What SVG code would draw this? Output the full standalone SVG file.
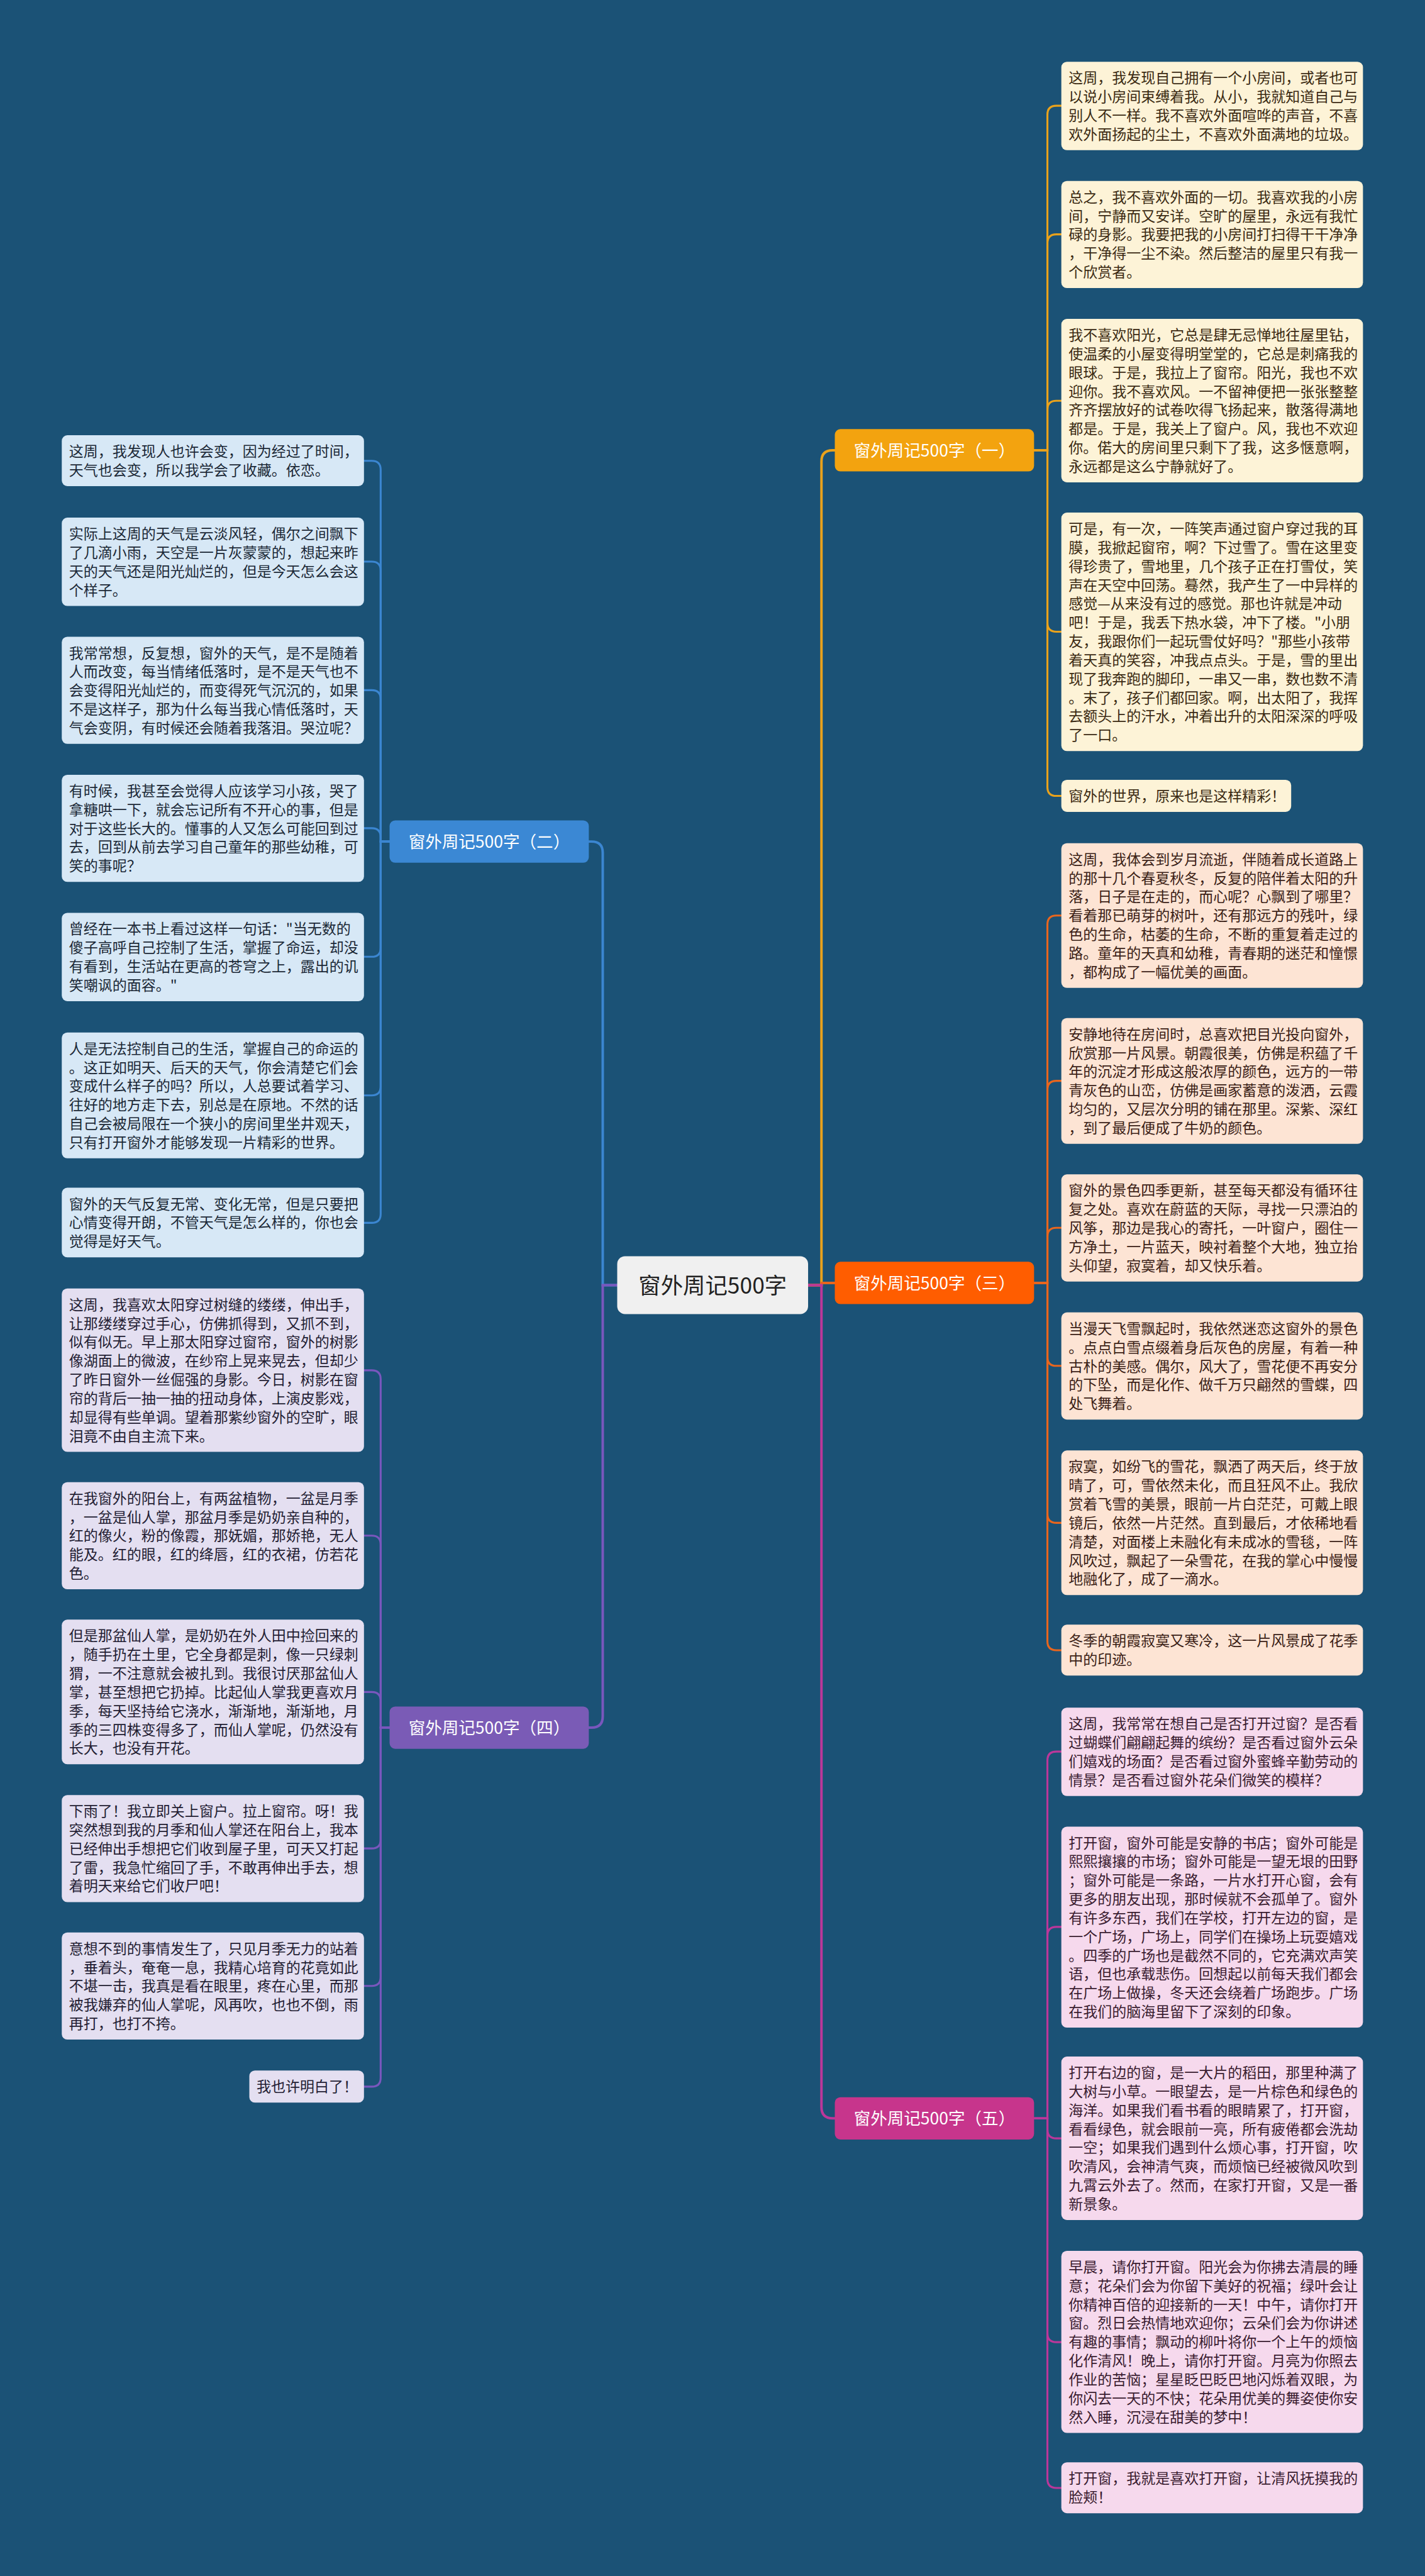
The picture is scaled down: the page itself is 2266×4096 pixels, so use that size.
<svg xmlns="http://www.w3.org/2000/svg" width="2266" height="4096" viewBox="0 0 2266 4096">
<style>
text{font-family:"Noto Sans CJK SC","Noto Sans",sans-serif;}
.t{font-size:26px;}
.c1 rect{fill:#fdf3d7}.c1 text{fill:#3b2a12}
.c3 rect{fill:#fde4d4}.c3 text{fill:#3b2116}
.c5 rect{fill:#f6d9ed}.c5 text{fill:#3a1c30}
.c2 rect{fill:#d7e8f6}.c2 text{fill:#1b2836}
.c4 rect{fill:#e4dff1}.c4 text{fill:#231d33}
.lab text{font-size:30px;fill:#ffffff;text-anchor:middle}
.con path{fill:none;stroke-width:3.5;stroke-linecap:round}
.k1{stroke:#e9a21c}.k3{stroke:#e8661e}.k5{stroke:#bb379a}.k2{stroke:#3b86d1}.k4{stroke:#7957bd}
.main{stroke-width:4.5 !important}
</style>
<rect width="2266" height="4096" fill="#1b5276"/>
<g transform="scale(0.885)">
<g id="connectors" class="con">
<path class="k1 main" d="M1452,2309 H1476 V829 Q1476,809 1496,809 H1500"/>
<path class="k3 main" d="M1452,2309 H1476 V2305 H1500"/>
<path class="k5 main" d="M1452,2309 H1476 V3786 Q1476,3806 1496,3806 H1500"/>
<path class="k2 main" d="M1109,2309 H1083 V1532 Q1083,1512 1063,1512 H1058"/>
<path class="k4 main" d="M1109,2309 H1083 V3084 Q1083,3104 1063,3104 H1058"/>
<path class="k1" d="M1858,809 H1882 V206 Q1882,190 1898,190 H1907"/>
<path class="k1" d="M1858,809 H1882 V437 Q1882,421 1898,421 H1907"/>
<path class="k1" d="M1858,809 H1882 V736 Q1882,720 1898,720 H1907"/>
<path class="k1" d="M1858,809 H1882 V1119 Q1882,1135 1898,1135 H1907"/>
<path class="k1" d="M1858,809 H1882 V1414 Q1882,1430 1898,1430 H1907"/>
<path class="k3" d="M1858,2305 H1882 V1661 Q1882,1645 1898,1645 H1907"/>
<path class="k3" d="M1858,2305 H1882 V1958 Q1882,1942 1898,1942 H1907"/>
<path class="k3" d="M1858,2305 H1882 V2222 Q1882,2206 1898,2206 H1907"/>
<path class="k3" d="M1858,2305 H1882 V2438 Q1882,2454 1898,2454 H1907"/>
<path class="k3" d="M1858,2305 H1882 V2720 Q1882,2736 1898,2736 H1907"/>
<path class="k3" d="M1858,2305 H1882 V2949 Q1882,2965 1898,2965 H1907"/>
<path class="k5" d="M1858,3806 H1882 V3163 Q1882,3147 1898,3147 H1907"/>
<path class="k5" d="M1858,3806 H1882 V3478 Q1882,3462 1898,3462 H1907"/>
<path class="k5" d="M1858,3806 H1882 V3826 Q1882,3842 1898,3842 H1907"/>
<path class="k5" d="M1858,3806 H1882 V4192 Q1882,4208 1898,4208 H1907"/>
<path class="k5" d="M1858,3806 H1882 V4454 Q1882,4470 1898,4470 H1907"/>
<path class="k2" d="M700,1512 H684 V844 Q684,828 668,828 H654"/>
<path class="k2" d="M700,1512 H684 V1025 Q684,1009 668,1009 H654"/>
<path class="k2" d="M700,1512 H684 V1256 Q684,1240 668,1240 H654"/>
<path class="k2" d="M700,1512 H684 V1504 Q684,1488 668,1488 H654"/>
<path class="k2" d="M700,1512 H684 V1703 Q684,1719 668,1719 H654"/>
<path class="k2" d="M700,1512 H684 V1952 Q684,1968 668,1968 H654"/>
<path class="k2" d="M700,1512 H684 V2181 Q684,2197 668,2197 H654"/>
<path class="k4" d="M700,3104 H684 V2478 Q684,2462 668,2462 H654"/>
<path class="k4" d="M700,3104 H684 V2775 Q684,2759 668,2759 H654"/>
<path class="k4" d="M700,3104 H684 V3056 Q684,3040 668,3040 H654"/>
<path class="k4" d="M700,3104 H684 V3305 Q684,3321 668,3321 H654"/>
<path class="k4" d="M700,3104 H684 V3552 Q684,3568 668,3568 H654"/>
<path class="k4" d="M700,3104 H684 V3733 Q684,3749 668,3749 H654"/>
</g>

<g id="center"><rect x="1109" y="2257" width="343" height="104" rx="14" fill="#f0f0f0"/><text x="1280.5" y="2324" font-size="40" fill="#222" text-anchor="middle">窗外周记500字</text></g>

<g id="b1" class="lab"><rect x="1500" y="771" width="358" height="76" rx="10" fill="#f3a30f"/><text x="1679" y="820">窗外周记500字（一）</text></g>
<g id="b3" class="lab"><rect x="1500" y="2267" width="358" height="76" rx="10" fill="#ff5d00"/><text x="1679" y="2316">窗外周记500字（三）</text></g>
<g id="b5" class="lab"><rect x="1500" y="3768" width="358" height="76" rx="10" fill="#c7358c"/><text x="1679" y="3817">窗外周记500字（五）</text></g>
<g id="b2" class="lab"><rect x="700" y="1474" width="358" height="76" rx="10" fill="#3b88d4"/><text x="879" y="1523">窗外周记500字（二）</text></g>
<g id="b4" class="lab"><rect x="700" y="3066" width="358" height="76" rx="10" fill="#7a5bb6"/><text x="879" y="3115">窗外周记500字（四）</text></g>

<g id="r1" class="c1"><rect x="1907" y="111" width="542" height="158.8" rx="10"/><text class="t" x="1920" y="149.5"><tspan x="1920">这周，我发现自己拥有一个小房间，或者也可</tspan><tspan x="1920" dy="33.7">以说小房间束缚着我。从小，我就知道自己与</tspan><tspan x="1920" dy="33.7">别人不一样。我不喜欢外面喧哗的声音，不喜</tspan><tspan x="1920" dy="33.7">欢外面扬起的尘土，不喜欢外面满地的垃圾。</tspan></text></g>
<g id="r2" class="c1"><rect x="1907" y="325" width="542" height="192.5" rx="10"/><text class="t" x="1920" y="363.5"><tspan x="1920">总之，我不喜欢外面的一切。我喜欢我的小房</tspan><tspan x="1920" dy="33.7">间，宁静而又安详。空旷的屋里，永远有我忙</tspan><tspan x="1920" dy="33.7">碌的身影。我要把我的小房间打扫得干干净净</tspan><tspan x="1920" dy="33.7">，干净得一尘不染。然后整洁的屋里只有我一</tspan><tspan x="1920" dy="33.7">个欣赏者。</tspan></text></g>
<g id="r3" class="c1"><rect x="1907" y="573" width="542" height="293.6" rx="10"/><text class="t" x="1920" y="611.5"><tspan x="1920">我不喜欢阳光，它总是肆无忌惮地往屋里钻，</tspan><tspan x="1920" dy="33.7">使温柔的小屋变得明堂堂的，它总是刺痛我的</tspan><tspan x="1920" dy="33.7">眼球。于是，我拉上了窗帘。阳光，我也不欢</tspan><tspan x="1920" dy="33.7">迎你。我不喜欢风。一不留神便把一张张整整</tspan><tspan x="1920" dy="33.7">齐齐摆放好的试卷吹得飞扬起来，散落得满地</tspan><tspan x="1920" dy="33.7">都是。于是，我关上了窗户。风，我也不欢迎</tspan><tspan x="1920" dy="33.7">你。偌大的房间里只剩下了我，这多惬意啊，</tspan><tspan x="1920" dy="33.7">永远都是这么宁静就好了。</tspan></text></g>
<g id="r4" class="c1"><rect x="1907" y="921" width="542" height="428.4" rx="10"/><text class="t" x="1920" y="959.5"><tspan x="1920">可是，有一次，一阵笑声通过窗户穿过我的耳</tspan><tspan x="1920" dy="33.7">膜，我掀起窗帘，啊？下过雪了。雪在这里变</tspan><tspan x="1920" dy="33.7">得珍贵了，雪地里，几个孩子正在打雪仗，笑</tspan><tspan x="1920" dy="33.7">声在天空中回荡。蓦然，我产生了一中异样的</tspan><tspan x="1920" dy="33.7">感觉—从来没有过的感觉。那也许就是冲动</tspan><tspan x="1920" dy="33.7">吧！于是，我丢下热水袋，冲下了楼。"小朋</tspan><tspan x="1920" dy="33.7">友，我跟你们一起玩雪仗好吗？"那些小孩带</tspan><tspan x="1920" dy="33.7">着天真的笑容，冲我点点头。于是，雪的里出</tspan><tspan x="1920" dy="33.7">现了我奔跑的脚印，一串又一串，数也数不清</tspan><tspan x="1920" dy="33.7">。末了，孩子们都回家。啊，出太阳了，我挥</tspan><tspan x="1920" dy="33.7">去额头上的汗水，冲着出升的太阳深深的呼吸</tspan><tspan x="1920" dy="33.7">了一口。</tspan></text></g>
<g id="r5" class="c1"><rect x="1907" y="1401" width="413" height="57.7" rx="10"/><text class="t" x="1920" y="1439.5">窗外的世界，原来也是这样精彩！</text></g>

<g id="r6" class="c3"><rect x="1907" y="1515" width="542" height="259.9" rx="10"/><text class="t" x="1920" y="1553.5"><tspan x="1920">这周，我体会到岁月流逝，伴随着成长道路上</tspan><tspan x="1920" dy="33.7">的那十几个春夏秋冬，反复的陪伴着太阳的升</tspan><tspan x="1920" dy="33.7">落，日子是在走的，而心呢？心飘到了哪里？</tspan><tspan x="1920" dy="33.7">看着那已萌芽的树叶，还有那远方的残叶，绿</tspan><tspan x="1920" dy="33.7">色的生命，枯萎的生命，不断的重复着走过的</tspan><tspan x="1920" dy="33.7">路。童年的天真和幼稚，青春期的迷茫和憧憬</tspan><tspan x="1920" dy="33.7">，都构成了一幅优美的画面。</tspan></text></g>
<g id="r7" class="c3"><rect x="1907" y="1829" width="542" height="226.2" rx="10"/><text class="t" x="1920" y="1867.5"><tspan x="1920">安静地待在房间时，总喜欢把目光投向窗外，</tspan><tspan x="1920" dy="33.7">欣赏那一片风景。朝霞很美，仿佛是积蕴了千</tspan><tspan x="1920" dy="33.7">年的沉淀才形成这般浓厚的颜色，远方的一带</tspan><tspan x="1920" dy="33.7">青灰色的山峦，仿佛是画家蓄意的泼洒，云霞</tspan><tspan x="1920" dy="33.7">均匀的，又层次分明的铺在那里。深紫、深红</tspan><tspan x="1920" dy="33.7">，到了最后便成了牛奶的颜色。</tspan></text></g>
<g id="r8" class="c3"><rect x="1907" y="2110" width="542" height="192.5" rx="10"/><text class="t" x="1920" y="2148.5"><tspan x="1920">窗外的景色四季更新，甚至每天都没有循环往</tspan><tspan x="1920" dy="33.7">复之处。喜欢在蔚蓝的天际，寻找一只漂泊的</tspan><tspan x="1920" dy="33.7">风筝，那边是我心的寄托，一叶窗户，圈住一</tspan><tspan x="1920" dy="33.7">方净土，一片蓝天，映衬着整个大地，独立抬</tspan><tspan x="1920" dy="33.7">头仰望，寂寞着，却又快乐着。</tspan></text></g>
<g id="r9" class="c3"><rect x="1907" y="2358" width="542" height="192.5" rx="10"/><text class="t" x="1920" y="2396.5"><tspan x="1920">当漫天飞雪飘起时，我依然迷恋这窗外的景色</tspan><tspan x="1920" dy="33.7">。点点白雪点缀着身后灰色的房屋，有着一种</tspan><tspan x="1920" dy="33.7">古朴的美感。偶尔，风大了，雪花便不再安分</tspan><tspan x="1920" dy="33.7">的下坠，而是化作、做千万只翩然的雪蝶，四</tspan><tspan x="1920" dy="33.7">处飞舞着。</tspan></text></g>
<g id="r10" class="c3"><rect x="1907" y="2606" width="542" height="259.9" rx="10"/><text class="t" x="1920" y="2644.5"><tspan x="1920">寂寞，如纷飞的雪花，飘洒了两天后，终于放</tspan><tspan x="1920" dy="33.7">晴了，可，雪依然未化，而且狂风不止。我欣</tspan><tspan x="1920" dy="33.7">赏着飞雪的美景，眼前一片白茫茫，可戴上眼</tspan><tspan x="1920" dy="33.7">镜后，依然一片茫然。直到最后，才依稀地看</tspan><tspan x="1920" dy="33.7">清楚，对面楼上未融化有未成冰的雪毯，一阵</tspan><tspan x="1920" dy="33.7">风吹过，飘起了一朵雪花，在我的掌心中慢慢</tspan><tspan x="1920" dy="33.7">地融化了，成了一滴水。</tspan></text></g>
<g id="r11" class="c3"><rect x="1907" y="2919" width="542" height="91.4" rx="10"/><text class="t" x="1920" y="2957.5"><tspan x="1920">冬季的朝霞寂寞又寒冷，这一片风景成了花季</tspan><tspan x="1920" dy="33.7">中的印迹。</tspan></text></g>

<g id="r12" class="c5"><rect x="1907" y="3068" width="542" height="158.8" rx="10"/><text class="t" x="1920" y="3106.5"><tspan x="1920">这周，我常常在想自己是否打开过窗？是否看</tspan><tspan x="1920" dy="33.7">过蝴蝶们翩翩起舞的缤纷？是否看过窗外云朵</tspan><tspan x="1920" dy="33.7">们嬉戏的场面？是否看过窗外蜜蜂辛勤劳动的</tspan><tspan x="1920" dy="33.7">情景？是否看过窗外花朵们微笑的模样？</tspan></text></g>
<g id="r13" class="c5"><rect x="1907" y="3282" width="542" height="361" rx="10"/><text class="t" x="1920" y="3320.5"><tspan x="1920">打开窗，窗外可能是安静的书店；窗外可能是</tspan><tspan x="1920" dy="33.7">熙熙攘攘的市场；窗外可能是一望无垠的田野</tspan><tspan x="1920" dy="33.7">；窗外可能是一条路，一片水打开心窗，会有</tspan><tspan x="1920" dy="33.7">更多的朋友出现，那时候就不会孤单了。窗外</tspan><tspan x="1920" dy="33.7">有许多东西，我们在学校，打开左边的窗，是</tspan><tspan x="1920" dy="33.7">一个广场，广场上，同学们在操场上玩耍嬉戏</tspan><tspan x="1920" dy="33.7">。四季的广场也是截然不同的，它充满欢声笑</tspan><tspan x="1920" dy="33.7">语，但也承载悲伤。回想起以前每天我们都会</tspan><tspan x="1920" dy="33.7">在广场上做操，冬天还会绕着广场跑步。广场</tspan><tspan x="1920" dy="33.7">在我们的脑海里留下了深刻的印象。</tspan></text></g>
<g id="r14" class="c5"><rect x="1907" y="3695" width="542" height="293.6" rx="10"/><text class="t" x="1920" y="3733.5"><tspan x="1920">打开右边的窗，是一大片的稻田，那里种满了</tspan><tspan x="1920" dy="33.7">大树与小草。一眼望去，是一片棕色和绿色的</tspan><tspan x="1920" dy="33.7">海洋。如果我们看书看的眼睛累了，打开窗，</tspan><tspan x="1920" dy="33.7">看看绿色，就会眼前一亮，所有疲倦都会洗劫</tspan><tspan x="1920" dy="33.7">一空；如果我们遇到什么烦心事，打开窗，吹</tspan><tspan x="1920" dy="33.7">吹清风，会神清气爽，而烦恼已经被微风吹到</tspan><tspan x="1920" dy="33.7">九霄云外去了。然而，在家打开窗，又是一番</tspan><tspan x="1920" dy="33.7">新景象。</tspan></text></g>
<g id="r15" class="c5"><rect x="1907" y="4044" width="542" height="327.3" rx="10"/><text class="t" x="1920" y="4082.5"><tspan x="1920">早晨，请你打开窗。阳光会为你拂去清晨的睡</tspan><tspan x="1920" dy="33.7">意；花朵们会为你留下美好的祝福；绿叶会让</tspan><tspan x="1920" dy="33.7">你精神百倍的迎接新的一天！中午，请你打开</tspan><tspan x="1920" dy="33.7">窗。烈日会热情地欢迎你；云朵们会为你讲述</tspan><tspan x="1920" dy="33.7">有趣的事情；飘动的柳叶将你一个上午的烦恼</tspan><tspan x="1920" dy="33.7">化作清风！晚上，请你打开窗。月亮为你照去</tspan><tspan x="1920" dy="33.7">作业的苦恼；星星眨巴眨巴地闪烁着双眼，为</tspan><tspan x="1920" dy="33.7">你闪去一天的不快；花朵用优美的舞姿使你安</tspan><tspan x="1920" dy="33.7">然入睡，沉浸在甜美的梦中！</tspan></text></g>
<g id="r16" class="c5"><rect x="1907" y="4424" width="542" height="91.4" rx="10"/><text class="t" x="1920" y="4462.5"><tspan x="1920">打开窗，我就是喜欢打开窗，让清风抚摸我的</tspan><tspan x="1920" dy="33.7">脸颊！</tspan></text></g>

<g id="l1" class="c2"><rect x="111" y="782" width="543" height="91.4" rx="10"/><text class="t" x="124" y="820.5"><tspan x="124">这周，我发现人也许会变，因为经过了时间，</tspan><tspan x="124" dy="33.7">天气也会变，所以我学会了收藏。依恋。</tspan></text></g>
<g id="l2" class="c2"><rect x="111" y="930" width="543" height="158.8" rx="10"/><text class="t" x="124" y="968.5"><tspan x="124">实际上这周的天气是云淡风轻，偶尔之间飘下</tspan><tspan x="124" dy="33.7">了几滴小雨，天空是一片灰蒙蒙的，想起来昨</tspan><tspan x="124" dy="33.7">天的天气还是阳光灿烂的，但是今天怎么会这</tspan><tspan x="124" dy="33.7">个样子。</tspan></text></g>
<g id="l3" class="c2"><rect x="111" y="1144" width="543" height="192.5" rx="10"/><text class="t" x="124" y="1182.5"><tspan x="124">我常常想，反复想，窗外的天气，是不是随着</tspan><tspan x="124" dy="33.7">人而改变，每当情绪低落时，是不是天气也不</tspan><tspan x="124" dy="33.7">会变得阳光灿烂的，而变得死气沉沉的，如果</tspan><tspan x="124" dy="33.7">不是这样子，那为什么每当我心情低落时，天</tspan><tspan x="124" dy="33.7">气会变阴，有时候还会随着我落泪。哭泣呢？</tspan></text></g>
<g id="l4" class="c2"><rect x="111" y="1392" width="543" height="192.5" rx="10"/><text class="t" x="124" y="1430.5"><tspan x="124">有时候，我甚至会觉得人应该学习小孩，哭了</tspan><tspan x="124" dy="33.7">拿糖哄一下，就会忘记所有不开心的事，但是</tspan><tspan x="124" dy="33.7">对于这些长大的。懂事的人又怎么可能回到过</tspan><tspan x="124" dy="33.7">去，回到从前去学习自己童年的那些幼稚，可</tspan><tspan x="124" dy="33.7">笑的事呢？</tspan></text></g>
<g id="l5" class="c2"><rect x="111" y="1640" width="543" height="158.8" rx="10"/><text class="t" x="124" y="1678.5"><tspan x="124">曾经在一本书上看过这样一句话："当无数的</tspan><tspan x="124" dy="33.7">傻子高呼自己控制了生活，掌握了命运，却没</tspan><tspan x="124" dy="33.7">有看到，生活站在更高的苍穹之上，露出的讥</tspan><tspan x="124" dy="33.7">笑嘲讽的面容。"</tspan></text></g>
<g id="l6" class="c2"><rect x="111" y="1855" width="543" height="226.2" rx="10"/><text class="t" x="124" y="1893.5"><tspan x="124">人是无法控制自己的生活，掌握自己的命运的</tspan><tspan x="124" dy="33.7">。这正如明天、后天的天气，你会清楚它们会</tspan><tspan x="124" dy="33.7">变成什么样子的吗？所以，人总要试着学习、</tspan><tspan x="124" dy="33.7">往好的地方走下去，别总是在原地。不然的话</tspan><tspan x="124" dy="33.7">自己会被局限在一个狭小的房间里坐井观天，</tspan><tspan x="124" dy="33.7">只有打开窗外才能够发现一片精彩的世界。</tspan></text></g>
<g id="l7" class="c2"><rect x="111" y="2134" width="543" height="125.1" rx="10"/><text class="t" x="124" y="2172.5"><tspan x="124">窗外的天气反复无常、变化无常，但是只要把</tspan><tspan x="124" dy="33.7">心情变得开朗，不管天气是怎么样的，你也会</tspan><tspan x="124" dy="33.7">觉得是好天气。</tspan></text></g>

<g id="l8" class="c4"><rect x="111" y="2315" width="543" height="293.6" rx="10"/><text class="t" x="124" y="2353.5"><tspan x="124">这周，我喜欢太阳穿过树缝的缕缕，伸出手，</tspan><tspan x="124" dy="33.7">让那缕缕穿过手心，仿佛抓得到，又抓不到，</tspan><tspan x="124" dy="33.7">似有似无。早上那太阳穿过窗帘，窗外的树影</tspan><tspan x="124" dy="33.7">像湖面上的微波，在纱帘上晃来晃去，但却少</tspan><tspan x="124" dy="33.7">了昨日窗外一丝倔强的身影。今日，树影在窗</tspan><tspan x="124" dy="33.7">帘的背后一抽一抽的扭动身体，上演皮影戏，</tspan><tspan x="124" dy="33.7">却显得有些单调。望着那紫纱窗外的空旷，眼</tspan><tspan x="124" dy="33.7">泪竟不由自主流下来。</tspan></text></g>
<g id="l9" class="c4"><rect x="111" y="2663" width="543" height="192.5" rx="10"/><text class="t" x="124" y="2701.5"><tspan x="124">在我窗外的阳台上，有两盆植物，一盆是月季</tspan><tspan x="124" dy="33.7">，一盆是仙人掌，那盆月季是奶奶亲自种的，</tspan><tspan x="124" dy="33.7">红的像火，粉的像霞，那妩媚，那娇艳，无人</tspan><tspan x="124" dy="33.7">能及。红的眼，红的绛唇，红的衣裙，仿若花</tspan><tspan x="124" dy="33.7">色。</tspan></text></g>
<g id="l10" class="c4"><rect x="111" y="2910" width="543" height="259.9" rx="10"/><text class="t" x="124" y="2948.5"><tspan x="124">但是那盆仙人掌，是奶奶在外人田中捡回来的</tspan><tspan x="124" dy="33.7">，随手扔在土里，它全身都是刺，像一只绿刺</tspan><tspan x="124" dy="33.7">猬，一不注意就会被扎到。我很讨厌那盆仙人</tspan><tspan x="124" dy="33.7">掌，甚至想把它扔掉。比起仙人掌我更喜欢月</tspan><tspan x="124" dy="33.7">季，每天坚持给它浇水，渐渐地，渐渐地，月</tspan><tspan x="124" dy="33.7">季的三四株变得多了，而仙人掌呢，仍然没有</tspan><tspan x="124" dy="33.7">长大，也没有开花。</tspan></text></g>
<g id="l11" class="c4"><rect x="111" y="3225" width="543" height="192.5" rx="10"/><text class="t" x="124" y="3263.5"><tspan x="124">下雨了！我立即关上窗户。拉上窗帘。呀！我</tspan><tspan x="124" dy="33.7">突然想到我的月季和仙人掌还在阳台上，我本</tspan><tspan x="124" dy="33.7">已经伸出手想把它们收到屋子里，可天又打起</tspan><tspan x="124" dy="33.7">了雷，我急忙缩回了手，不敢再伸出手去，想</tspan><tspan x="124" dy="33.7">着明天来给它们收尸吧！</tspan></text></g>
<g id="l12" class="c4"><rect x="111" y="3472" width="543" height="192.5" rx="10"/><text class="t" x="124" y="3510.5"><tspan x="124">意想不到的事情发生了，只见月季无力的站着</tspan><tspan x="124" dy="33.7">，垂着头，奄奄一息，我精心培育的花竟如此</tspan><tspan x="124" dy="33.7">不堪一击，我真是看在眼里，疼在心里，而那</tspan><tspan x="124" dy="33.7">被我嫌弃的仙人掌呢，风再吹，也也不倒，雨</tspan><tspan x="124" dy="33.7">再打，也打不挎。</tspan></text></g>
<g id="l13" class="c4"><rect x="448" y="3720" width="206" height="57.7" rx="10"/><text class="t" x="461" y="3758.5">我也许明白了！</text></g>
</g>
</svg>
